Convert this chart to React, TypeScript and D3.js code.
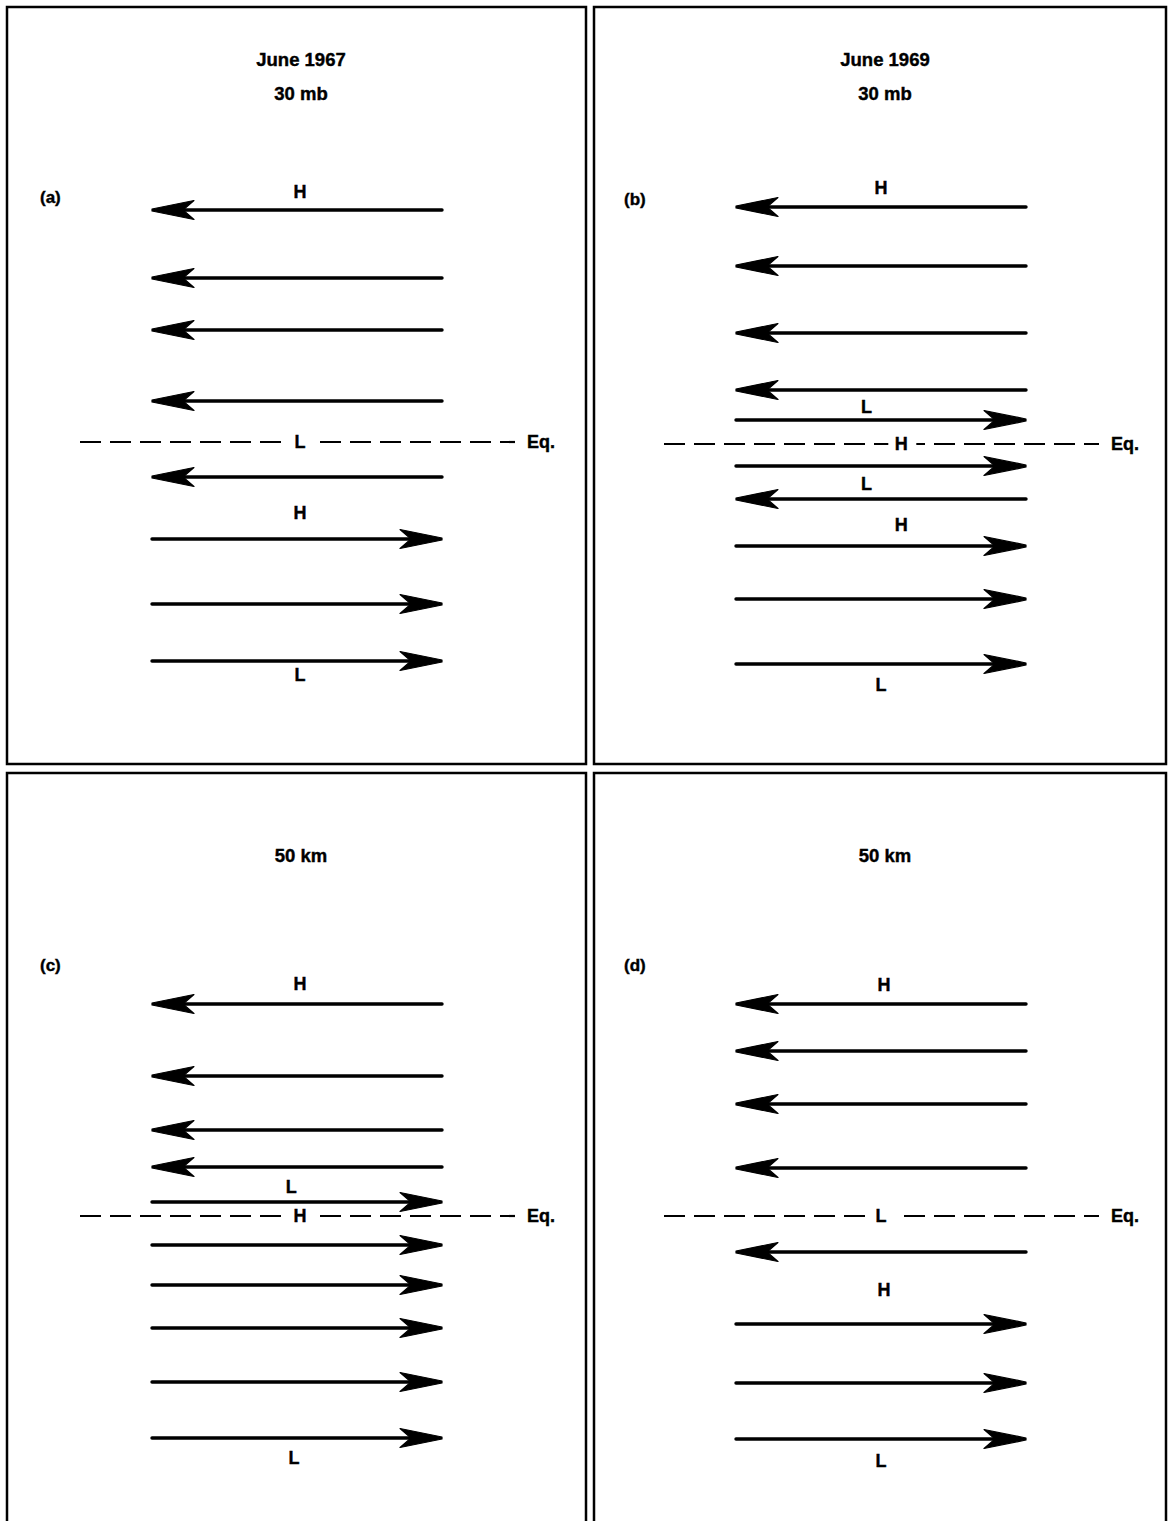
import React from "react";
import * as d3 from "d3";

// streamlines per panel: offset from the equator (north positive) and flow direction
type Flow = { y: number; dir: "E" | "W" };
type Mark = { t: string; y: number; x: number };

const panelIds = ["(a)", "(b)", "(c)", "(d)"];
const titles = [["June 1967", "30 mb"], ["June 1969", "30 mb"], ["50 km"], ["50 km"]];

const flowA: Flow[] = [
  { y: 232, dir: "W" }, { y: 164, dir: "W" }, { y: 112, dir: "W" }, { y: 41, dir: "W" },
  { y: -35, dir: "W" }, { y: -97, dir: "E" }, { y: -162, dir: "E" }, { y: -219, dir: "E" },
];
const flowB: Flow[] = [
  { y: 237, dir: "W" }, { y: 178, dir: "W" }, { y: 111, dir: "W" }, { y: 54, dir: "W" },
  { y: 24, dir: "E" }, { y: -22, dir: "E" }, { y: -55, dir: "W" }, { y: -102, dir: "E" },
  { y: -155, dir: "E" }, { y: -220, dir: "E" },
];
const flowC: Flow[] = [
  { y: 212, dir: "W" }, { y: 140, dir: "W" }, { y: 86, dir: "W" }, { y: 49, dir: "W" },
  { y: 14, dir: "E" }, { y: -29, dir: "E" }, { y: -69, dir: "E" }, { y: -112, dir: "E" },
  { y: -166, dir: "E" }, { y: -222, dir: "E" },
];
const flowD: Flow[] = [
  { y: 212, dir: "W" }, { y: 165, dir: "W" }, { y: 112, dir: "W" }, { y: 48, dir: "W" },
  { y: -36, dir: "W" }, { y: -108, dir: "E" }, { y: -167, dir: "E" }, { y: -223, dir: "E" },
];

// H / L labels: x is fraction along the streamline span
const marksA: Mark[] = [
  { t: "H", y: 250, x: 0.51 }, { t: "L", y: 0, x: 0.51 }, { t: "H", y: -71, x: 0.51 }, { t: "L", y: -233, x: 0.51 },
];
const marksB: Mark[] = [
  { t: "H", y: 256, x: 0.5 }, { t: "L", y: 37, x: 0.45 }, { t: "H", y: 0, x: 0.57 },
  { t: "L", y: -40, x: 0.45 }, { t: "H", y: -81, x: 0.57 }, { t: "L", y: -241, x: 0.5 },
];
const marksC: Mark[] = [
  { t: "H", y: 232, x: 0.51 }, { t: "L", y: 29, x: 0.48 }, { t: "H", y: 0, x: 0.51 }, { t: "L", y: -242, x: 0.49 },
];
const marksD: Mark[] = [
  { t: "H", y: 231, x: 0.51 }, { t: "L", y: 0, x: 0.5 }, { t: "H", y: -74, x: 0.51 }, { t: "L", y: -245, x: 0.5 },
];

const flows = [flowA, flowB, flowC, flowD];
const marks = [marksA, marksB, marksC, marksD];

// layout
const layout = [
  { box: [7, 7, 586, 764], ox: 0, eq: 442, titleY: [59, 93], idY: 197 },
  { box: [594, 7, 1166, 764], ox: 584, eq: 444, titleY: [59, 93], idY: 199 },
  { box: [7, 773, 586, 1540], ox: 0, eq: 1216, titleY: [855], idY: 965 },
  { box: [594, 773, 1166, 1540], ox: 584, eq: 1216, titleY: [855], idY: 965 },
];

const FONT = "'Liberation Sans', Arial, sans-serif";

function Arrow({ x0, x1, y, dir }: { x0: number; x1: number; y: number; dir: "E" | "W" }) {
  const len = 42, hw = 9.5, notch = 31;
  const tip = dir === "W" ? x0 : x1;
  const s = dir === "W" ? 1 : -1;
  const tail = dir === "W" ? x1 : x0;
  const head = d3.path();
  head.moveTo(tip, y - 1);
  head.lineTo(tip + s * len, y - hw);
  head.lineTo(tip + s * notch, y);
  head.lineTo(tip + s * len, y + hw);
  head.lineTo(tip, y + 1);
  head.closePath();
  return (
    <g>
      <line x1={tail} x2={tip + s * (notch - 2)} y1={y} y2={y} stroke="#000" strokeWidth={3.4} strokeLinecap="round" />
      <path d={head.toString()} fill="#000" stroke="#000" strokeWidth={1.2} strokeLinejoin="round" />
    </g>
  );
}

function Panel({ i }: { i: number }) {
  const L = layout[i];
  const x = d3.scaleLinear().domain([0, 1]).range([152 + L.ox, 442 + L.ox]);
  const y = d3.scaleLinear().domain([-300, 300]).range([L.eq + 300, L.eq - 300]);
  const [bx0, by0, bx1, by1] = L.box;
  const cx = 301 + L.ox;
  const eqMark = marks[i].find((m) => m.y === 0);
  return (
    <g fontFamily={FONT} fontWeight="bold" stroke="none">
      <rect x={bx0} y={by0} width={bx1 - bx0} height={by1 - by0} fill="none" stroke="#000" strokeWidth={2.5} />
      {titles[i].map((t, k) => (
        <text key={k} x={cx} y={L.titleY[k]} textAnchor="middle" dominantBaseline="central" fontSize={18.5}
          stroke="#000" strokeWidth={0.4}>
          {t}
        </text>
      ))}
      <text x={40 + L.ox} y={L.idY} dominantBaseline="central" fontSize={17} stroke="#000" strokeWidth={0.4}>
        {panelIds[i]}
      </text>
      <line
        x1={x(0) - 72}
        x2={x(1) + 73}
        y1={y(0)}
        y2={y(0)}
        stroke="#000"
        strokeWidth={2.2}
        strokeDasharray="21 9"
      />
      {eqMark && <rect x={x(eqMark.x) - 13} y={y(0) - 4} width={28} height={8} fill="#fff" />}
      <text x={527 + L.ox} y={y(0)} dominantBaseline="central" fontSize={18} stroke="#000" strokeWidth={0.4}>
        Eq.
      </text>
      {flows[i].map((f, k) => (
        <Arrow key={k} x0={x(0)} x1={x(1)} y={y(f.y)} dir={f.dir} />
      ))}
      {marks[i].map((m, k) => (
        <text key={k} x={x(m.x)} y={y(m.y)} textAnchor="middle" dominantBaseline="central" fontSize={18}
          stroke="#000" strokeWidth={0.4}>
          {m.t}
        </text>
      ))}
    </g>
  );
}

export default function App() {
  return (
    <div style={{ position: "absolute", left: 0, top: 0 }}>
      <svg width={1168} height={1521} style={{ display: "block", background: "#fff" }}>
        {panelIds.map((_, i) => (
          <Panel key={i} i={i} />
        ))}
      </svg>
    </div>
  );
}
